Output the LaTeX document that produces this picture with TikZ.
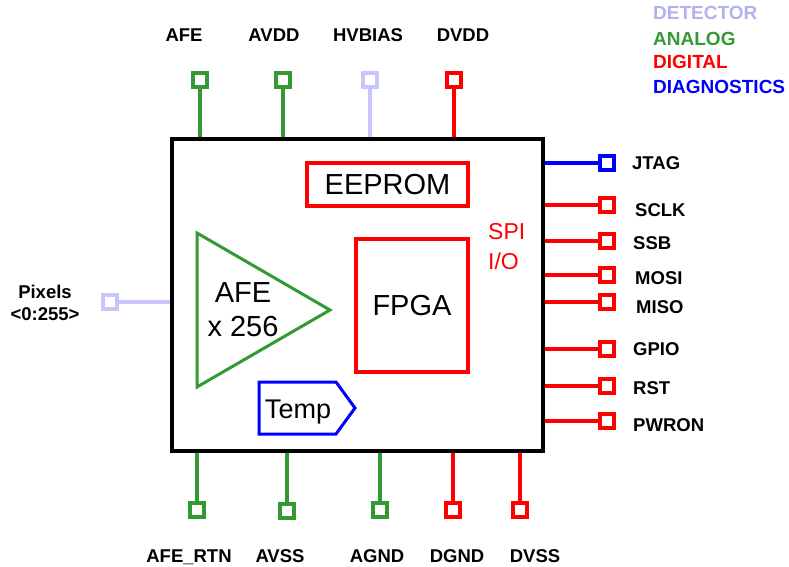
\documentclass[tikz,border=0pt]{standalone}
\usepackage{fontspec}
\setmainfont{Liberation Sans}
\definecolor{detcol}{RGB}{198,198,250}
\definecolor{dettext}{RGB}{178,178,236}
\definecolor{anacol}{RGB}{51,153,51}
\definecolor{digcol}{RGB}{255,0,0}
\definecolor{diacol}{RGB}{0,0,255}

\begin{document}
\begin{tikzpicture}[
  x=1pt, y=-1pt,
  pinsq/.style={draw, line width=4pt, minimum size=14.5pt, inner sep=0pt, fill=white},
  wire/.style={line width=3.5pt},
  lbl/.style={font=\bfseries\fontsize{18.5}{22}\selectfont, inner sep=0pt},
  blk/.style={draw=digcol, line width=4pt, inner sep=0pt, font=\fontsize{29}{34}\selectfont},
  legend/.style={lbl, anchor=west, font=\bfseries\fontsize{19}{22}\selectfont}
]
\useasboundingbox (0,0) rectangle (789,567);

% chip outline
\node[draw, line width=4pt, minimum width=371pt, minimum height=312pt] (chip) at (357.5,295) {};

% inner blocks
\node[blk, minimum width=161pt, minimum height=43pt] (eeprom) at (387.5,184.5) {EEPROM};
\node[blk, minimum width=112pt, minimum height=133pt] (fpga) at (412,305.5) {FPGA};
\draw[anacol, line width=3pt] (197,233) -- (330,310) -- (197,387) -- cycle;
\node[align=center, inner sep=0pt, font=\fontsize{29}{34}\selectfont] (afeamp) at (243,310) {AFE\\x 256};
\draw[diacol, line width=3pt] (259,382) -- (336,382) -- (355,408) -- (336,434) -- (259,434) -- cycle;
\node[anchor=base, inner sep=0pt, font=\fontsize{27}{30}\selectfont] (temp) at (298,418) {Temp};
\node[align=left, anchor=west, inner sep=0pt, text=digcol, font=\fontsize{23}{30}\selectfont] (spi) at (488,246.5) {SPI\\I/O};

% top pins
\node[pinsq, draw=anacol] (afe) at (200,80) {};
\node[pinsq, draw=anacol] (avdd) at (283,80) {};
\node[pinsq, draw=detcol] (hvbias) at (370,80) {};
\node[pinsq, draw=digcol] (dvdd) at (454,80) {};
\draw[wire, anacol] (afe.south) -- (afe.south |- chip.north);
\draw[wire, anacol] (avdd.south) -- (avdd.south |- chip.north);
\draw[wire, detcol] (hvbias.south) -- (hvbias.south |- chip.north);
\draw[wire, digcol] (dvdd.south) -- (dvdd.south |- chip.north);
\node[lbl] (afel) at (184,35) {AFE};
\node[lbl] (avddl) at (274,35) {AVDD};
\node[lbl] (hvbiasl) at (368,35) {HVBIAS};
\node[lbl] (dvddl) at (463,35) {DVDD};

% right pins
\node[pinsq, draw=diacol] (jtag) at (607,163) {};
\node[pinsq, draw=digcol] (sclk) at (607,205) {};
\node[pinsq, draw=digcol] (ssb) at (607,241) {};
\node[pinsq, draw=digcol] (mosi) at (607,275) {};
\node[pinsq, draw=digcol] (miso) at (607,302) {};
\node[pinsq, draw=digcol] (gpio) at (607,349) {};
\node[pinsq, draw=digcol] (rst) at (607,386) {};
\node[pinsq, draw=digcol] (pwron) at (607,421) {};
\draw[wire, diacol] (chip.east |- jtag) -- (jtag.west);
\draw[wire, digcol] (chip.east |- sclk) -- (sclk.west);
\draw[wire, digcol] (chip.east |- ssb) -- (ssb.west);
\draw[wire, digcol] (chip.east |- mosi) -- (mosi.west);
\draw[wire, digcol] (chip.east |- miso) -- (miso.west);
\draw[wire, digcol] (chip.east |- gpio) -- (gpio.west);
\draw[wire, digcol] (chip.east |- rst) -- (rst.west);
\draw[wire, digcol] (chip.east |- pwron) -- (pwron.west);
\node[lbl, anchor=west] (jtagl) at (632,163) {JTAG};
\node[lbl, anchor=west] (sclkl) at (635,210) {SCLK};
\node[lbl, anchor=west] (ssbl) at (633,243) {SSB};
\node[lbl, anchor=west] (mosil) at (635,278) {MOSI};
\node[lbl, anchor=west] (misol) at (636,307) {MISO};
\node[lbl, anchor=west] (gpiol) at (633,349) {GPIO};
\node[lbl, anchor=west] (rstl) at (633,388) {RST};
\node[lbl, anchor=west] (pwronl) at (633,425) {PWRON};

% bottom pins
\node[pinsq, draw=anacol] (afertn) at (197,510) {};
\node[pinsq, draw=anacol] (avss) at (287,511) {};
\node[pinsq, draw=anacol] (agnd) at (380,510) {};
\node[pinsq, draw=digcol] (dgnd) at (453,510) {};
\node[pinsq, draw=digcol] (dvss) at (520,510) {};
\draw[wire, anacol] (afertn.north) -- (afertn.north |- chip.south);
\draw[wire, anacol] (avss.north) -- (avss.north |- chip.south);
\draw[wire, anacol] (agnd.north) -- (agnd.north |- chip.south);
\draw[wire, digcol] (dgnd.north) -- (dgnd.north |- chip.south);
\draw[wire, digcol] (dvss.north) -- (dvss.north |- chip.south);
\node[lbl, anchor=base] (afertnl) at (189,562) {AFE\_RTN};
\node[lbl, anchor=base] (avssl) at (280,562) {AVSS};
\node[lbl, anchor=base] (agndl) at (377,562) {AGND};
\node[lbl, anchor=base] (dgndl) at (457,562) {DGND};
\node[lbl, anchor=base] (dvssl) at (535,562) {DVSS};

% detector input
\node[pinsq, draw=detcol] (pix) at (110,302) {};
\draw[wire, detcol] (pix.east) -- (pix -| chip.west);
\node[lbl, align=center] (pixl) at (45,302.5) {Pixels\\<0:255>};

% legend
\node[legend, text=dettext] (legdet) at (653,13) {DETECTOR};
\node[legend, text=anacol] (legana) at (653,39) {ANALOG};
\node[legend, text=digcol] (legdig) at (653,62) {DIGITAL};
\node[legend, text=diacol] (legdia) at (653,87) {DIAGNOSTICS};
\end{tikzpicture}
\end{document}
